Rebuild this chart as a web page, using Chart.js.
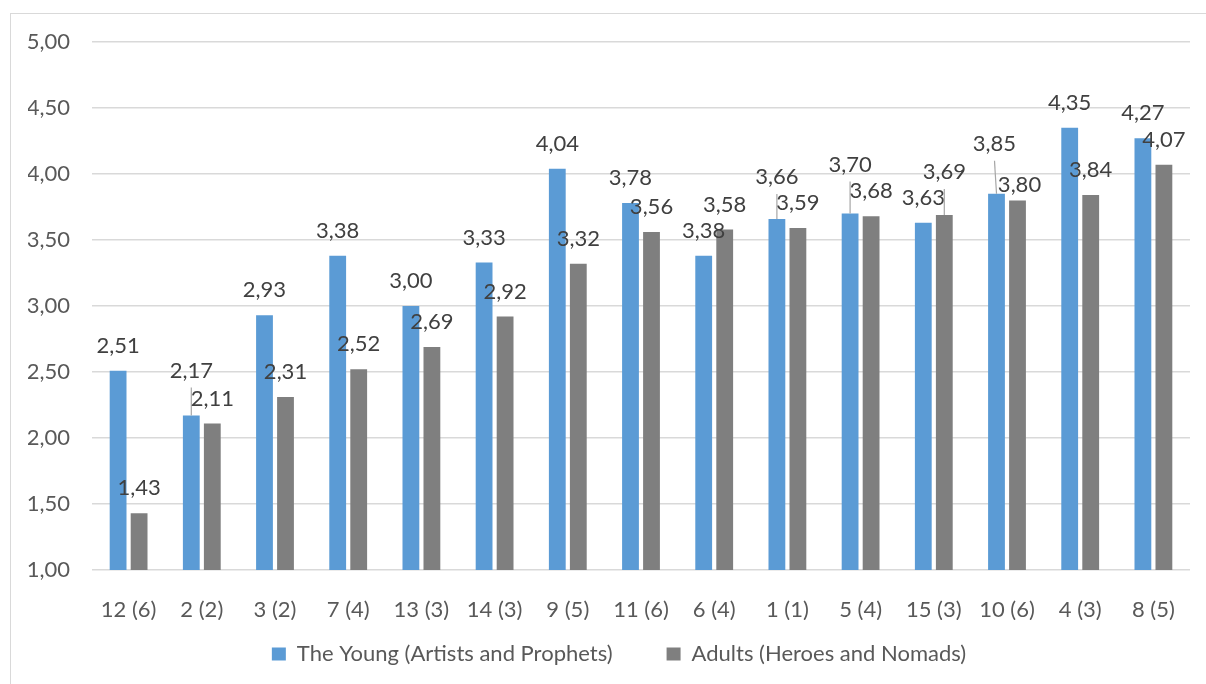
<!DOCTYPE html>
<html>
<head>
<meta charset="utf-8">
<script src="https://cdn.jsdelivr.net/npm/chart.js@4.4.1/dist/chart.umd.min.js"></script>
<style>
  html, body { margin: 0; padding: 0; background: #fff; overflow: hidden; width: 1206px; height: 684px; }
  #frame { position: absolute; left: 10px; top: 13px; width: 1218px; height: 720px;
           border-left: 1px solid #d9d9d9; border-top: 1px solid #d9d9d9; }
  canvas { display: block; }
</style>
</head>
<body>
<div id="frame"><canvas id="c" width="1217" height="700"></canvas></div>
<script>
const categories = ["12 (6)", "2 (2)", "3 (2)", "7 (4)", "13 (3)", "14 (3)", "9 (5)", "11 (6)",
                    "6 (4)", "1 (1)", "5 (4)", "15 (3)", "10 (6)", "4 (3)", "8 (5)"];
const youngValues  = [2.51, 2.17, 2.93, 3.38, 3.00, 3.33, 4.04, 3.78, 3.38, 3.66, 3.70, 3.63, 3.85, 4.35, 4.27];
const adultValues  = [1.43, 2.11, 2.31, 2.52, 2.69, 2.92, 3.32, 3.56, 3.58, 3.59, 3.68, 3.69, 3.80, 3.84, 4.07];
const seriesNames  = ["The Young (Artists and Prophets)", "Adults (Heroes and Nomads)"];
const yTicks       = [1.00, 1.50, 2.00, 2.50, 3.00, 3.50, 4.00, 4.50, 5.00];

const fmt = v => v.toFixed(2).replace('.', ',');
const FONT = 'Lato, "Open Sans", sans-serif';

const barLabels = {
  id: 'barLabels',
  afterDatasetsDraw(chart, args, opts) {
    const ctx = chart.ctx;
    ctx.save();
    ctx.font = '22px ' + FONT;
    ctx.textAlign = 'center';
    ctx.textBaseline = 'middle';
    chart.data.datasets.forEach((ds, di) => {
      const meta = chart.getDatasetMeta(di);
      meta.data.forEach((bar, i) => {
        const n = opts.nudge[di + '-' + i] || [0, 0, false];
        const lx = bar.x + n[0];
        const ly = bar.y + opts.gap + n[1];
        if (n[2]) {
          ctx.strokeStyle = '#a6a6a6';
          ctx.lineWidth = 1.2;
          ctx.beginPath();
          ctx.moveTo(lx, ly + 17);
          ctx.lineTo(bar.x, bar.y);
          ctx.stroke();
        }
        ctx.fillStyle = '#404040';
        ctx.fillText(fmt(ds.data[i]), lx, ly);
      });
    });
    ctx.restore();
  }
};

const legendShift = {
  id: 'legendShift',
  afterLayout(chart, args, opts) {
    const L = chart.legend;
    if (L) {
      L.left += opts.dx; L.right += opts.dx;
      L.top += opts.dy; L.bottom += opts.dy;
    }
  }
};

new Chart(document.getElementById('c'), {
  type: 'bar',
  data: {
    labels: categories,
    datasets: [
      { label: seriesNames[0], data: youngValues, backgroundColor: '#5B9BD5', borderWidth: 0,
        categoryPercentage: 0.574, barPercentage: 0.8 },
      { label: seriesNames[1], data: adultValues, backgroundColor: '#7F7F7F', borderWidth: 0,
        categoryPercentage: 0.574, barPercentage: 0.8 }
    ]
  },
  options: {
    responsive: false,
    animation: false,
    devicePixelRatio: 1,
    layout: { padding: { left: 17, right: 38, top: 28, bottom: 8 } },
    plugins: {
      legend: {
        position: 'bottom',
        labels: {
          boxWidth: 14, boxHeight: 13, padding: 54,
          color: '#595959',
          font: { family: FONT, size: 22 }
        }
      },
      legendShift: { dx: 10, dy: -31 },
      tooltip: { enabled: false },
      barLabels: {
        gap: -25,
        nudge: {
          '0-1': [0, -20, true],
          '0-9': [0, -17, true],
          '0-10': [0, -24, true],
          '1-11': [0, -18, true],
          '0-12': [-2, -25, true],
          '1-12': [2, 10, false]
        }
      }
    },
    scales: {
      x: {
        grid: { display: false },
        border: { display: false },
        ticks: { color: '#595959', font: { family: FONT, size: 22 }, padding: 19, maxRotation: 0,
                 autoSkip: false },
        afterFit(s) { s.height = 50; }
      },
      y: {
        min: 1, max: 5,
        afterBuildTicks(s) { s.ticks = yTicks.map(v => ({ value: v })); },
        grid: { color: '#d9d9d9', lineWidth: 1.5, drawTicks: false },
        border: { display: false },
        ticks: { color: '#595959', font: { family: FONT, size: 22 }, padding: 22,
                 callback: v => fmt(v) },
        afterFit(s) { s.width = 64; s.paddingTop = 0; s.paddingBottom = 0; }
      }
    }
  },
  plugins: [barLabels, legendShift]
});
</script>
</body>
</html>
